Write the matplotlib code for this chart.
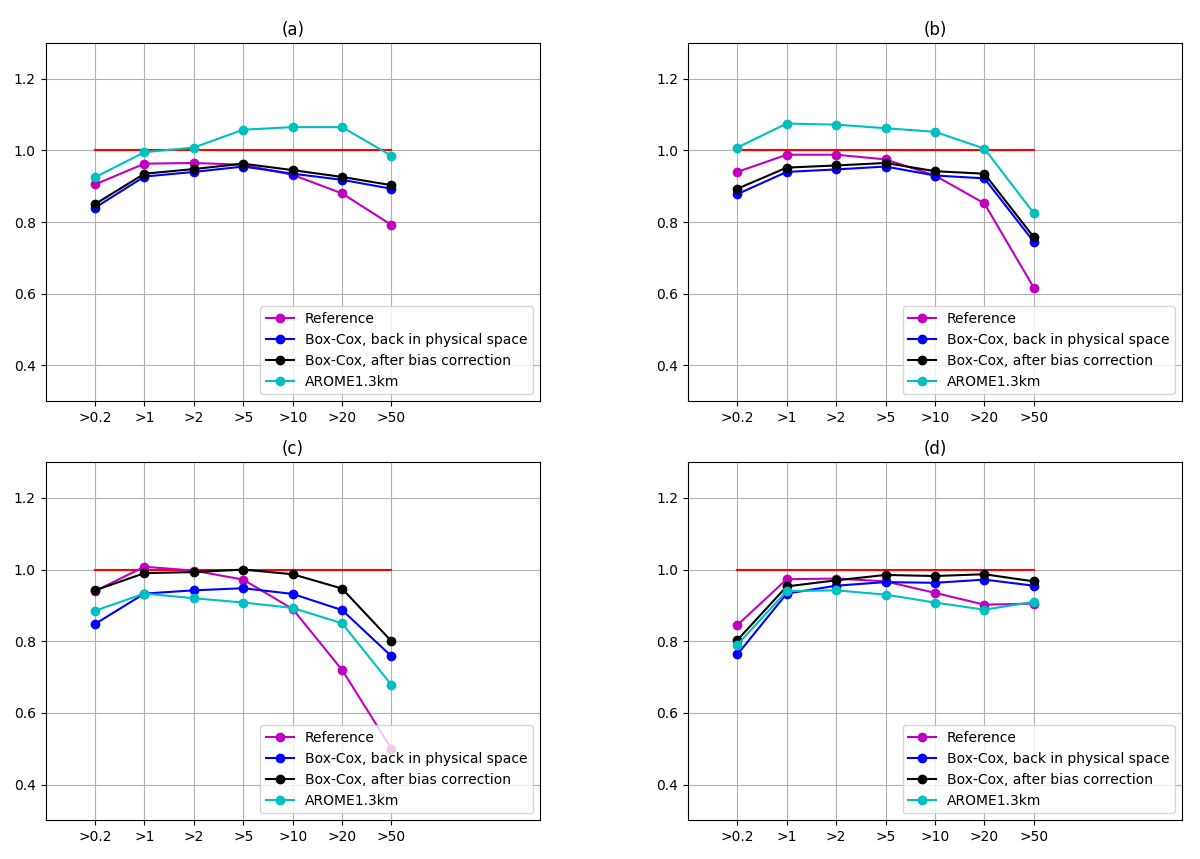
import matplotlib.pyplot as plt
import numpy as np

thresholds = ['>0.2', '>1', '>2', '>5', '>10', '>20', '>50']
titles = ['(a)', '(b)', '(c)', '(d)']

ref = [[0.905, 0.963, 0.965, 0.960, 0.932, 0.880, 0.792],
       [0.940, 0.988, 0.988, 0.975, 0.930, 0.852, 0.617],
       [0.940, 1.008, 0.997, 0.972, 0.890, 0.720, 0.500],
       [0.845, 0.973, 0.975, 0.967, 0.935, 0.902, 0.905]]
boxcox = [[0.840, 0.927, 0.940, 0.955, 0.935, 0.918, 0.893],
          [0.878, 0.940, 0.947, 0.955, 0.930, 0.922, 0.745],
          [0.848, 0.933, 0.942, 0.948, 0.932, 0.887, 0.758],
          [0.763, 0.933, 0.955, 0.965, 0.963, 0.972, 0.955]]
boxcox_bc = [[0.850, 0.935, 0.948, 0.963, 0.945, 0.926, 0.903],
             [0.893, 0.952, 0.958, 0.965, 0.942, 0.935, 0.758],
             [0.942, 0.990, 0.993, 1.000, 0.987, 0.947, 0.800],
             [0.803, 0.953, 0.970, 0.985, 0.982, 0.987, 0.967]]
arome = [[0.925, 0.995, 1.008, 1.058, 1.065, 1.065, 0.985],
         [1.008, 1.075, 1.072, 1.062, 1.052, 1.005, 0.825],
         [0.885, 0.933, 0.920, 0.908, 0.893, 0.850, 0.678],
         [0.790, 0.940, 0.942, 0.930, 0.908, 0.888, 0.910]]

x = np.arange(len(thresholds))
fig, axes = plt.subplots(2, 2, figsize=(12, 8.59), dpi=100)
for i, ax in enumerate(axes.flat):
    ax.plot(x, np.ones(len(x)), 'r-')
    ax.plot(x, ref[i], 'mo-', label='Reference')
    ax.plot(x, boxcox[i], 'bo-', label='Box-Cox, back in physical space')
    ax.plot(x, boxcox_bc[i], 'ko-', label='Box-Cox, after bias correction')
    ax.plot(x, arome[i], 'co-', label='AROME1.3km')
    ax.set_xlim(-1, 9)
    ax.set_ylim(0.3, 1.3)
    ax.set_xticks(x)
    ax.set_xticklabels(thresholds)
    ax.set_yticks([0.4, 0.6, 0.8, 1.0, 1.2])
    ax.grid(True)
    ax.set_title(titles[i])
    ax.legend(loc='lower right')
plt.subplots_adjust(left=0.038, right=0.985, top=0.95, bottom=0.045, wspace=0.3, hspace=0.17)
plt.savefig('out.png')
